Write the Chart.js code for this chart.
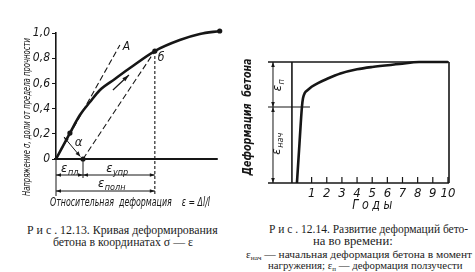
<!DOCTYPE html>
<html lang="ru">
<head>
<meta charset="UTF-8">
<title>Деформации бетона</title>
<script src="https://cdn.jsdelivr.net/npm/chart.js"></script>
<style>
  body { margin:0; width:475px; height:272px; background:#fff; position:relative; overflow:hidden; }
  canvas { position:absolute; top:0; }
  #left { left:0; }
  #right { left:240px; }
  .cap { position:absolute; font-family:"Liberation Serif", "DejaVu Serif", serif; color:#1c1c1c;
         white-space:nowrap; transform-origin:0 50%; line-height:1; }
  .s { font-size:65%; position:relative; top:2px; }
</style>
</head>
<body>
<canvas id="left" width="240" height="215"></canvas>
<canvas id="right" width="235" height="215"></canvas>

<div class="cap" data-x0="27" data-x1="218" data-y="229" style="font-size:13px">Р и с . 12.13. Кривая деформирования</div>
<div class="cap" data-x0="53" data-x1="193" data-y="241" style="font-size:13px">бетона в координатах σ — ε</div>
<div class="cap" data-x0="269" data-x1="468" data-y="228" style="font-size:13px">Р и с . 12.14. Развитие деформаций бето-</div>
<div class="cap" data-x0="313" data-x1="393" data-y="240" style="font-size:13px">на во времени:</div>
<div class="cap" data-x0="246" data-x1="472" data-y="254" style="font-size:11px">ε<span class="s">нач</span> — начальная деформация бетона в момент</div>
<div class="cap" data-x0="268" data-x1="462" data-y="265" style="font-size:11px">нагружения; ε<span class="s">п</span> — деформация ползучести</div>

<script>
  // Рис. 12.13 - кривая σ - ε
  var sigmaTicks = [0, 0.2, 0.4, 0.6, 0.8, 1.0];
  var curveEps   = [0, 0.86, 1.48, 2.10, 2.72, 3.64, 4.57, 6.11, 7.65, 8.89, 10.12];
  var curveSigma = [0, 0.206, 0.349, 0.452, 0.548, 0.635, 0.722, 0.857, 0.944, 0.992, 1.016];
  var lineA_eps = [0, 3.95];
  var lineA_sigma = [0, 0.905];
  var unloadEps = [1.67, 6.11];
  var unloadSigma = [0, 0.857];
  var markEps = [0.86, 1.67, 6.11, 10.12];
  var markSigma = [0.206, 0, 0.857, 1.016];

  // Рис. 12.14 - деформация во времени
  var yearTicks = [1, 2, 3, 4, 5, 6, 7, 8, 9, 10];
  var years  = [0.03, 0.2, 0.36, 0.43, 0.55, 0.76, 1.0, 1.42, 2.0, 2.9, 4.0, 5.0, 6.8, 8.1, 10];
  var strain = [0, 0.33, 0.628, 0.70, 0.745, 0.77, 0.795, 0.826, 0.86, 0.905, 0.94, 0.959, 0.983, 1.0, 1.0];
  var strainInit = 0.628;

  var INK = "#161616";
  var NARROW = '"Liberation Sans Narrow", "DejaVu Sans Condensed", "Liberation Sans", sans-serif';

  // подгонка строк подписи под ширину оригинала
  document.querySelectorAll(".cap").forEach(function (el) {
    var x0 = +el.dataset.x0, x1 = +el.dataset.x1, y = +el.dataset.y;
    var w = el.offsetWidth, h = el.offsetHeight;
    el.style.left = x0 + "px";
    el.style.top = (y - h / 2) + "px";
    el.style.transform = "scaleX(" + ((x1 - x0) / w) + ")";
  });

  function pts(xs, ys) {
    return xs.map(function (x, i) { return { x: x, y: ys[i] }; });
  }

  function seg(ctx, x1, y1, x2, y2, w, dash) {
    ctx.save();
    ctx.strokeStyle = INK;
    ctx.lineWidth = w || 1;
    ctx.setLineDash(dash || []);
    ctx.beginPath(); ctx.moveTo(x1, y1); ctx.lineTo(x2, y2); ctx.stroke();
    ctx.restore();
  }

  function head(ctx, x1, y1, x2, y2, len, wid) {
    len = len || 5; wid = wid || 1.8;
    var a = Math.atan2(y2 - y1, x2 - x1);
    ctx.save();
    ctx.fillStyle = INK;
    ctx.translate(x2, y2); ctx.rotate(a);
    ctx.beginPath(); ctx.moveTo(0, 0); ctx.lineTo(-len, -wid); ctx.lineTo(-len, wid); ctx.closePath(); ctx.fill();
    ctx.restore();
  }

  function dim(ctx, x1, y1, x2, y2) {
    seg(ctx, x1, y1, x2, y2, 1);
    head(ctx, x2, y2, x1, y1);
    head(ctx, x1, y1, x2, y2);
  }

  function fitText(ctx, s, cx, cy, w, font, rot) {
    ctx.save();
    ctx.fillStyle = INK;
    ctx.translate(cx, cy);
    if (rot) ctx.rotate(rot);
    ctx.font = font;
    var m = ctx.measureText(s).width;
    if (w) ctx.scale(w / m, 1);
    ctx.textAlign = "center"; ctx.textBaseline = "middle";
    ctx.fillText(s, 0, 0);
    ctx.restore();
  }

  function subText(ctx, main, sub, cx, cy, size, rot) {
    ctx.save();
    ctx.fillStyle = INK;
    ctx.translate(cx, cy);
    if (rot) ctx.rotate(rot);
    var f1 = "italic " + size + "px " + NARROW;
    var f2 = "italic " + Math.round(size * 0.72) + "px " + NARROW;
    ctx.font = f1; var w1 = ctx.measureText(main).width;
    ctx.font = f2; var w2 = ctx.measureText(sub).width;
    var x0 = -(w1 + w2) / 2;
    ctx.textBaseline = "middle"; ctx.textAlign = "left";
    ctx.font = f1; ctx.fillText(main, x0, 0);
    ctx.font = f2; ctx.fillText(sub, x0 + w1 + 0.5, size * 0.3);
    ctx.restore();
  }

  var leftDeco = {
    id: "leftDeco",
    afterDatasetsDraw: function (chart) {
      var ctx = chart.ctx, sx = chart.scales.x, sy = chart.scales.y;
      var X = function (v) { return sx.getPixelForValue(v); };
      var Y = function (v) { return sy.getPixelForValue(v); };
      var x0 = X(0), y0 = Y(0), xU = X(unloadEps[0]), xB = X(unloadEps[1]);

      // ось деформаций
      seg(ctx, x0 - 2, y0, X(10), y0, 1.8);
      // выносные линии
      seg(ctx, x0, y0, x0, y0 + 37, 1);
      seg(ctx, xU, y0, xU, y0 + 19, 1);
      // размерные линии
      dim(ctx, x0, y0 + 16, xU, y0 + 16);
      dim(ctx, xU, y0 + 16, xB, y0 + 16);
      dim(ctx, x0, y0 + 32, xB, y0 + 32);
      subText(ctx, "ε", "пл", (x0 + xU) / 2, y0 + 10, 13);
      subText(ctx, "ε", "упр", (xU + xB) / 2 - 2, y0 + 10, 13);
      subText(ctx, "ε", "полн", (x0 + xB) / 2 + 6, y0 + 25, 13);

      // угол α
      var ax1 = X(0.49), ay1 = Y(0.175), ax2 = X(1.5), ay2 = Y(0.02);
      seg(ctx, ax1, ay1, ax2, ay2, 1);
      head(ctx, ax1, ay1, ax2, ay2, 5, 2);
      head(ctx, ax2, ay2, ax1, ay1, 5, 2);
      fitText(ctx, "α", X(1.4), Y(0.13), 0, "italic 13px " + NARROW);

      // стрелка нагружения
      var cx1 = X(3.52), cy1 = Y(0.548), cx2 = X(4.51), cy2 = Y(0.667);
      seg(ctx, cx1, cy1, cx2, cy2, 1.2);
      head(ctx, cx1, cy1, cx2, cy2, 7, 2.2);

      fitText(ctx, "A", X(4.35), Y(0.89), 0, "italic 12px " + NARROW);
      fitText(ctx, "б", X(6.5), Y(0.8), 0, "italic 12px " + NARROW);

      // подписи осей
      fitText(ctx, "Напряжение σ, доли от предела прочности", 27, 117, 158, "italic 11px " + NARROW, -Math.PI / 2);
      fitText(ctx, "Относительная  деформация    ε = Δl/l", 130, 203, 160, "italic 12px " + NARROW);
    }
  };

  var rightDeco = {
    id: "rightDeco",
    afterDatasetsDraw: function (chart) {
      var ctx = chart.ctx, sx = chart.scales.x, sy = chart.scales.y, a = chart.chartArea;
      var X = function (v) { return sx.getPixelForValue(v); };
      var Y = function (v) { return sy.getPixelForValue(v); };
      var yTop = Y(1), yBot = Y(0), yMid = Y(strainInit);

      // рамка
      seg(ctx, a.left, yTop, a.right, yTop, 1.6);
      seg(ctx, a.right, yTop, a.right, yBot, 1.6);
      seg(ctx, a.left, yBot, a.right, yBot, 1.6);
      // ось деформаций
      seg(ctx, X(-0.3), yTop, X(-0.3), yBot, 1.6);
      // метки лет
      sx.ticks.forEach(function (t) {
        seg(ctx, X(t.value), yBot, X(t.value), yBot - 6, 1.2);
      });
      // уровень начальной деформации
      seg(ctx, a.left, yMid, X(0.89), yMid, 1.2);
      // размерная линия
      var xd = X(-1.55);
      seg(ctx, xd, yTop, xd, yBot, 1);
      head(ctx, xd, yMid, xd, yTop);
      head(ctx, xd, yTop, xd, yMid);
      head(ctx, xd, yBot, xd, yMid);
      head(ctx, xd, yMid, xd, yBot);
      subText(ctx, "ε", "п", 38, (yTop + yMid) / 2 + 1, 13, -Math.PI / 2);
      subText(ctx, "ε", "нач", 37, (yMid + yBot) / 2 - 1, 13, -Math.PI / 2);

      fitText(ctx, "Деформация  бетона", 8, 117, 117, "italic bold 13px " + NARROW, -Math.PI / 2);
      fitText(ctx, "Г о д ы", X(5), 205, 40, "italic 14px " + NARROW);
    }
  };

  new Chart(document.getElementById("left").getContext("2d"), {
    type: "scatter",
    data: {
      datasets: [
        { data: pts(curveEps, curveSigma), showLine: true, borderColor: INK, borderWidth: 2.6,
          cubicInterpolationMode: "monotone", pointRadius: 0, clip: false },
        { data: pts(lineA_eps, lineA_sigma), showLine: true, borderColor: INK, borderWidth: 1.1,
          borderDash: [6, 3], pointRadius: 0, clip: false },
        { data: pts(unloadEps, unloadSigma), showLine: true, borderColor: INK, borderWidth: 1.1,
          borderDash: [6, 3], pointRadius: 0, clip: false },
        { data: [{ x: unloadEps[1], y: unloadSigma[1] }, { x: unloadEps[1], y: -0.29 }], showLine: true,
          borderColor: INK, borderWidth: 1.1, borderDash: [3, 2], pointRadius: 0, clip: false },
        { data: pts(markEps, markSigma), showLine: false, pointRadius: 2.6, pointBackgroundColor: INK,
          pointBorderWidth: 0, clip: false }
      ]
    },
    options: {
      responsive: false,
      animation: false,
      layout: { padding: { top: 33, bottom: 56, left: 0, right: 19 } },
      plugins: { legend: { display: false }, tooltip: { enabled: false } },
      scales: {
        x: { type: "linear", min: 0, max: 10.2, display: false },
        y: {
          type: "linear", min: 0, max: 1,
          afterFit: function (s) { s.width = 56; },
          afterBuildTicks: function (s) { s.ticks = sigmaTicks.map(function (v) { return { value: v }; }); },
          ticks: {
            color: INK, padding: 2,
            font: { family: NARROW, size: 12, style: "italic" },
            callback: function (v) { return v === 0 ? "0" : v.toFixed(1).replace(".", ","); }
          },
          grid: { display: true, drawOnChartArea: false, tickLength: 4, color: INK },
          border: { display: true, color: INK, width: 1.6 }
        }
      }
    },
    plugins: [leftDeco]
  });

  new Chart(document.getElementById("right").getContext("2d"), {
    type: "scatter",
    data: {
      datasets: [
        { data: pts(years, strain), showLine: true, borderColor: INK, borderWidth: 2.6,
          cubicInterpolationMode: "monotone", pointRadius: 0, clip: false }
      ]
    },
    options: {
      responsive: false,
      animation: false,
      layout: { padding: { top: 62, bottom: 0, left: 28, right: 26 } },
      plugins: { legend: { display: false }, tooltip: { enabled: false } },
      scales: {
        x: {
          type: "linear", min: -1.88, max: 10.07,
          afterFit: function (s) { s.height = 32; },
          afterBuildTicks: function (s) { s.ticks = yearTicks.map(function (v) { return { value: v }; }); },
          ticks: { color: INK, padding: 3, maxRotation: 0, autoSkip: false,
                   font: { family: NARROW, size: 13, style: "italic" } },
          grid: { display: false, drawTicks: false },
          border: { display: false }
        },
        y: { type: "linear", min: 0, max: 1, display: false }
      }
    },
    plugins: [rightDeco]
  });
</script>
</body>
</html>
